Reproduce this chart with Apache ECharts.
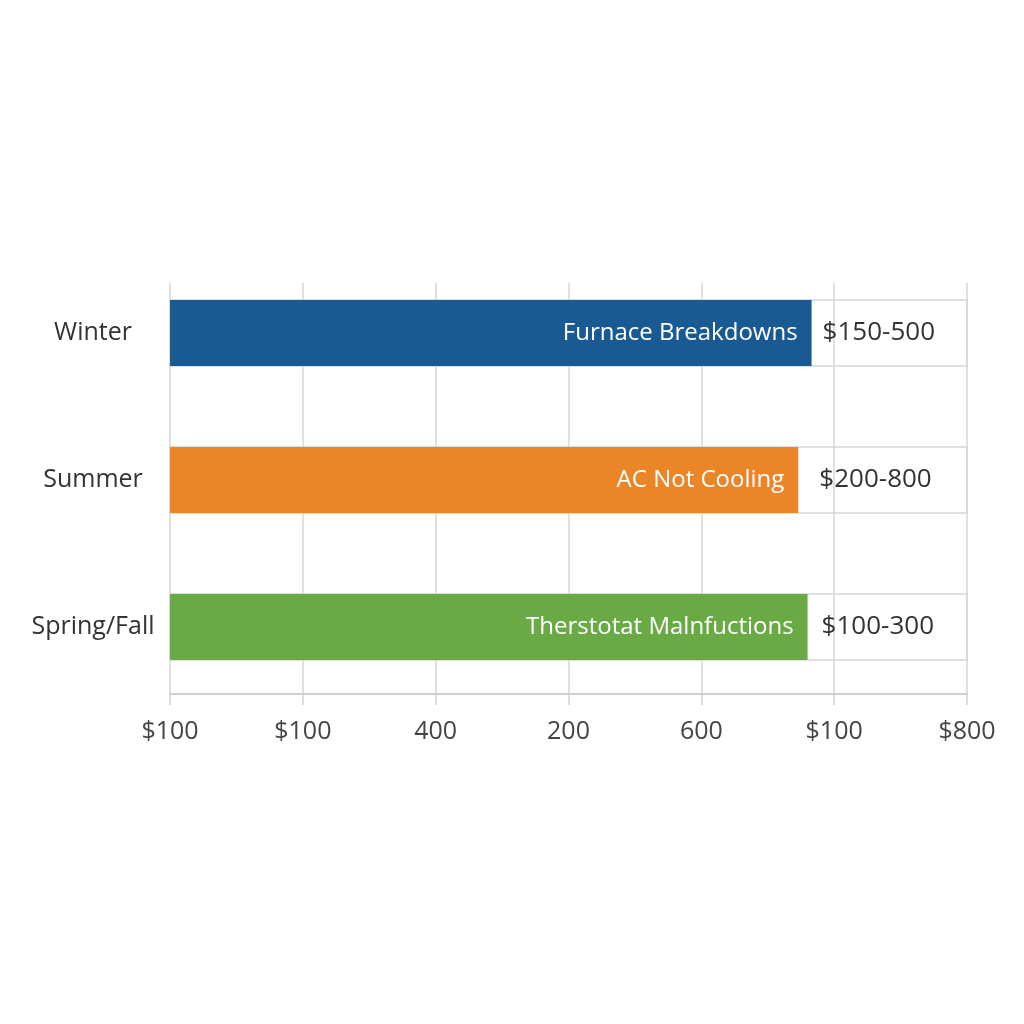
<!DOCTYPE html>
<html>
<head>
<meta charset="utf-8">
<script src="https://cdn.jsdelivr.net/npm/echarts@6/dist/echarts.min.js"></script>
<style>
html,body{margin:0;padding:0;background:#fff;}
#chart{width:1024px;height:1024px;}
</style>
</head>
<body>
<div id="chart"></div>
<script>
const categories = ['Winter', 'Summer', 'Spring/Fall'];
const issueNames = ['Furnace Breakdowns', 'AC Not Cooling', 'Therstotat Malnfuctions'];
const costRanges = ['$150-500', '$200-800', '$100-300'];
const barValues = [483, 473, 480];
const tickLabels = ['$100', '$100', '400', '200', '600', '$100', '$800'];

// styling (kept apart from the data)
const barColors = ['#1a5a93', '#ea8628', '#6aaa45'];
const rangeLabelGap = [11, 21, 14];

const FONT = 'Open Sans';
const chart = echarts.init(document.getElementById('chart'));

const catRev = categories.slice().reverse();
const valRev = barValues.slice().reverse();
const nameRev = issueNames.slice().reverse();
const rangeRev = costRanges.slice().reverse();
const colRev = barColors.slice().reverse();
const gapRev = rangeLabelGap.slice().reverse();

chart.setOption({
  backgroundColor: '#ffffff',
  animation: false,
  grid: [
    { left: 170, right: 57, top: 283, bottom: 330, containLabel: false },
    { left: 170, right: 57, top: 259.5, height: 441, containLabel: false }
  ],
  xAxis: [
    {
      gridIndex: 0, type: 'value', min: 0, max: 600, interval: 100,
      axisLine: { show: true, lineStyle: { color: '#cfcfcf', width: 2 } },
      axisTick: { show: true, length: 11, lineStyle: { color: '#cfcfcf', width: 1.5 } },
      splitLine: { show: true, lineStyle: { color: '#d6d6d6', width: 1.5 } },
      axisLabel: {
        margin: 25, fontFamily: FONT, fontSize: 25, color: '#444',
        formatter: function (v) { return tickLabels[Math.round(v / 100)]; }
      }
    },
    {
      gridIndex: 1, type: 'value', min: 0, max: 600, interval: 100, show: false
    }
  ],
  yAxis: [
    {
      gridIndex: 0, type: 'category', data: catRev, show: false
    },
    {
      gridIndex: 1, type: 'category', data: catRev,
      axisLine: { show: false }, axisTick: { show: false }, splitLine: { show: false },
      axisLabel: { margin: 77, align: 'center', fontFamily: FONT, fontSize: 25, color: '#333' }
    }
  ],
  series: [
    {
      type: 'bar', xAxisIndex: 1, yAxisIndex: 1, barWidth: 66,
      data: valRev.map((v, i) => ({ value: v, itemStyle: { color: colRev[i] } })),
      showBackground: true,
      backgroundStyle: { color: 'rgba(0,0,0,0)', borderColor: '#d6d6d6', borderWidth: 1.5 },
      label: {
        show: true, position: 'insideRight', distance: 14,
        fontFamily: FONT, fontSize: 24, color: '#ffffff',
        formatter: function (p) { return nameRev[p.dataIndex]; }
      },
      z: 3
    },
    {
      type: 'bar', xAxisIndex: 1, yAxisIndex: 1, barWidth: 66, barGap: '-100%',
      data: valRev.map((v, i) => ({ value: v, label: { distance: gapRev[i] } })),
      itemStyle: { color: 'rgba(0,0,0,0)' },
      label: {
        show: true, position: 'right',
        fontFamily: FONT, fontSize: 26, color: '#333',
        formatter: function (p) { return rangeRev[p.dataIndex]; }
      },
      z: 4
    }
  ]
});
</script>
</body>
</html>
